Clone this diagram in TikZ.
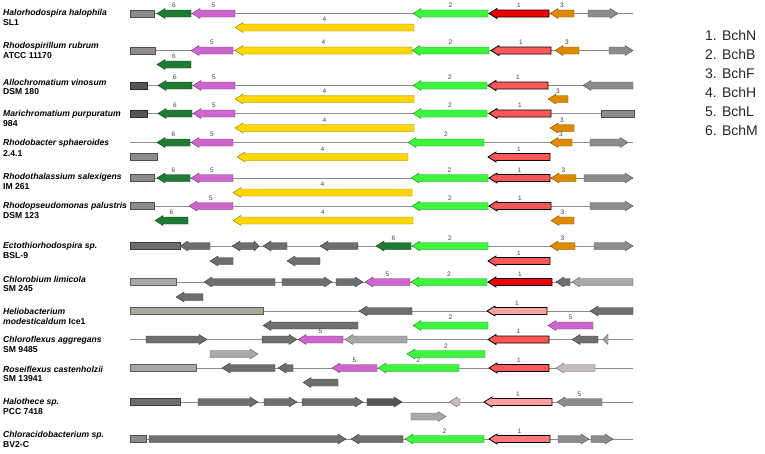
\documentclass[tikz,border=0pt]{standalone}
\usepackage{fontspec}
\setmainfont{Liberation Sans}
\definecolor{bchM}{HTML}{1F7A34}
\definecolor{bchL}{HTML}{CC66CC}
\definecolor{bchH}{HTML}{FFD700}
\definecolor{bchB}{HTML}{3CF53C}
\definecolor{bchF}{HTML}{DE8A00}
\definecolor{bchNa}{HTML}{EE0000}
\definecolor{bchNb}{HTML}{FF5858}
\definecolor{bchNc}{HTML}{FFA0A0}
\definecolor{greyA}{HTML}{8C8C8C}
\definecolor{greyB}{HTML}{6E6E6E}
\definecolor{greyC}{HTML}{A8A8A8}
\definecolor{greyD}{HTML}{555555}
\definecolor{greyE}{HTML}{A9A59F}
\definecolor{greyF}{HTML}{C6BABE}
\tikzset{
  backbone/.style={draw=greyA, line width=0.6pt},
  gfill/.style={fill=#1, draw=#1!55!black, line width=0.4pt},
  rfill/.style={fill=#1, draw=black, line width=0.8pt},
  numlab/.style={font=\fontsize{6.5}{6.5}\selectfont, text=black!75, inner sep=0pt},
  species/.style={anchor=west, inner sep=0pt, font=\fontsize{8.6}{10}\selectfont\bfseries\itshape},
  strain/.style={anchor=west, inner sep=0pt, font=\fontsize{8.6}{10}\selectfont\bfseries},
  legend/.style={anchor=west, inner sep=0pt, text=black!85, font=\fontsize{14}{16}\selectfont}
}
% gene pointing left: name, tip, end, y, style, number
\newcommand{\genel}[6]{%
  \pgfmathsetmacro{\headlen}{min(8,#3-#2)}
  \draw[#5] (#2,#4) -- ++(\headlen,-5) -- ++(0,1.5) -- (#3,#4-3.5) -- (#3,#4+3.5) -- (#2+\headlen,#4+3.5) -- ++(0,1.5) -- cycle;
  \node[numlab] (#1) at ({(#2+#3)/2},#4-8) {#6};}
% gene pointing right: name, start, tip, y, style, number
\newcommand{\gener}[6]{%
  \pgfmathsetmacro{\headlen}{min(8,#3-#2)}
  \draw[#5] (#3,#4) -- ++(-\headlen,-5) -- ++(0,1.5) -- (#2,#4-3.5) -- (#2,#4+3.5) -- (#3-\headlen,#4+3.5) -- ++(0,1.5) -- cycle;
  \node[numlab] (#1) at ({(#2+#3)/2},#4-8) {#6};}
% gene fragment without direction: x1, x2, y, style
\newcommand{\genebox}[4]{%
  \draw[#4] (#1,#3-3.5) rectangle (#2,#3+3.5);}
\begin{document}
\begin{tikzpicture}[x=1pt, y=-1pt]
    \useasboundingbox (0,0) rectangle (765,453);
    % row 1
    \node[species] (sp1) at (3,13) {Halorhodospira halophila};
    \node[strain] (st1) at (3,23) {SL1};
    \draw[backbone] (130,13.5) -- (633,13.5);
    \genebox{130}{154}{13.5}{gfill=greyA}
    \genel{r1a}{157}{191}{13.5}{gfill=bchM}{6}
    \genel{r1b}{192}{235}{13.5}{gfill=bchL}{5}
    \genel{r1c}{413}{488}{13.5}{gfill=bchB}{2}
    \genel{r1d}{489}{549}{13.5}{rfill=bchNa}{1}
    \genel{r1e}{550}{574}{13.5}{gfill=bchF}{3}
    \gener{r1f}{588}{618}{13.5}{gfill=greyA}{}
    \genel{r1g}{235}{414}{27.5}{gfill=bchH}{4}
    % row 2
    \node[species] (sp2) at (3,46) {Rhodospirillum rubrum};
    \node[strain] (st2) at (3,56) {ATCC 11170};
    \draw[backbone] (130,50.5) -- (633,50.5);
    \genebox{130}{155}{50.5}{gfill=greyA}
    \genel{r2a}{191}{233}{50.5}{gfill=bchL}{5}
    \genel{r2b}{235}{412}{50.5}{gfill=bchH}{4}
    \genel{r2c}{412}{489}{50.5}{gfill=bchB}{2}
    \genel{r2d}{491}{551}{50.5}{rfill=bchNb}{1}
    \genel{r2e}{555}{579}{50.5}{gfill=bchF}{3}
    \gener{r2f}{609}{633}{50.5}{gfill=greyA}{}
    \genel{r2g}{157}{191}{64.5}{gfill=bchM}{6}
    % row 3
    \node[species] (sp3) at (3,82) {Allochromatium vinosum};
    \node[strain] (st3) at (3,92) {DSM 180};
    \draw[backbone] (130,85.5) -- (633,85.5);
    \genebox{130}{147}{85.5}{gfill=greyD}
    \genel{r3a}{158}{192}{85.5}{gfill=bchM}{6}
    \genel{r3b}{193}{235}{85.5}{gfill=bchL}{5}
    \genel{r3c}{413}{487}{85.5}{gfill=bchB}{2}
    \genel{r3d}{488}{548}{85.5}{rfill=bchNb}{1}
    \genel{r3e}{583}{633}{85.5}{gfill=greyA}{}
    \genel{r3f}{235}{414}{99}{gfill=bchH}{4}
    \genel{r3g}{548}{568}{99}{gfill=bchF}{3}
    % row 4
    \node[species] (sp4) at (3,114) {Marichromatium purpuratum};
    \node[strain] (st4) at (3,124) {984};
    \draw[backbone] (130,113.5) -- (633,113.5);
    \genebox{130}{147}{113.5}{gfill=greyD}
    \genel{r4a}{158}{192}{113.5}{gfill=bchM}{6}
    \genel{r4b}{193}{235}{113.5}{gfill=bchL}{5}
    \genel{r4c}{413}{487}{113.5}{gfill=bchB}{2}
    \genel{r4d}{489}{551}{113.5}{rfill=bchNb}{1}
    \genebox{601}{634}{113.5}{gfill=greyA}
    \genel{r4e}{235}{414}{128}{gfill=bchH}{4}
    \genel{r4f}{550}{574}{128}{gfill=bchF}{3}
    % row 5
    \node[species] (sp5) at (3,143) {Rhodobacter sphaeroides};
    \node[strain] (st5) at (3,153) {2.4.1};
    \draw[backbone] (130,142.5) -- (633,142.5);
    \genel{r5a}{157}{190}{142.5}{gfill=bchM}{6}
    \genel{r5b}{191}{233}{142.5}{gfill=bchL}{5}
    \genel{r5c}{408}{484}{142.5}{gfill=bchB}{2}
    \genel{r5d}{550}{572}{142.5}{gfill=bchF}{3}
    \gener{r5e}{590}{628}{142.5}{gfill=greyA}{}
    \genebox{130}{157}{157}{gfill=greyA}
    \genel{r5f}{237}{408}{157}{gfill=bchH}{4}
    \genel{r5g}{488}{550}{157}{rfill=bchNb}{1}
    % row 6
    \node[species] (sp6) at (3,177) {Rhodothalassium salexigens};
    \node[strain] (st6) at (3,187) {IM 261};
    \draw[backbone] (130,178) -- (633,178);
    \genebox{130}{154}{178}{gfill=greyA}
    \genel{r6a}{157}{190}{178}{gfill=bchM}{6}
    \genel{r6b}{191}{233}{178}{gfill=bchL}{5}
    \genel{r6c}{411}{488}{178}{gfill=bchB}{2}
    \genel{r6d}{489}{550}{178}{rfill=bchNb}{1}
    \genel{r6e}{551}{576}{178}{gfill=bchF}{3}
    \gener{r6f}{584}{633}{178}{gfill=greyA}{}
    \genel{r6g}{233}{412}{192.5}{gfill=bchH}{4}
    % row 7
    \node[species] (sp7) at (3,206) {Rhodopseudomonas palustris};
    \node[strain] (st7) at (3,216) {DSM 123};
    \draw[backbone] (130,206) -- (633,206);
    \genebox{130}{154}{206}{gfill=greyA}
    \genel{r7a}{189}{233}{206}{gfill=bchL}{5}
    \genel{r7b}{412}{488}{206}{gfill=bchB}{2}
    \genel{r7c}{489}{551}{206}{rfill=bchNb}{1}
    \gener{r7d}{590}{633}{206}{gfill=greyA}{}
    \genel{r7e}{155}{188}{220.5}{gfill=bchM}{6}
    \genel{r7f}{233}{413}{220.5}{gfill=bchH}{4}
    \genel{r7g}{551}{574}{220.5}{gfill=bchF}{3}
    % row 8
    \node[species] (sp8) at (3,246) {Ectothiorhodospira sp.};
    \node[strain] (st8) at (3,256) {BSL-9};
    \draw[backbone] (130,246) -- (633,246);
    \genebox{130}{180}{246}{gfill=greyB}
    \genel{r8a}{180}{210}{246}{gfill=greyB}{}
    \genel{r8b}{232}{254}{246}{gfill=greyB}{}
    \gener{r8c}{254}{259}{246}{gfill=greyB}{}
    \genel{r8d}{263}{287}{246}{gfill=greyB}{}
    \genel{r8e}{320}{358}{246}{gfill=greyB}{}
    \genel{r8f}{376}{411}{246}{gfill=bchM}{6}
    \genel{r8g}{412}{488}{246}{gfill=bchB}{2}
    \genel{r8h}{550}{575}{246}{gfill=bchF}{3}
    \gener{r8i}{594}{633}{246}{gfill=greyA}{}
    \genel{r8j}{210}{233}{261}{gfill=greyB}{}
    \genel{r8k}{287}{320}{261}{gfill=greyB}{}
    \genel{r8l}{488}{550}{261}{rfill=bchNb}{1}
    % row 9
    \node[species] (sp9) at (3,279) {Chlorobium limicola};
    \node[strain] (st9) at (3,289) {SM 245};
    \draw[backbone] (130,282) -- (633,282);
    \genebox{130}{176}{282}{gfill=greyC}
    \genel{r9a}{204}{275}{282}{gfill=greyB}{}
    \gener{r9b}{282}{332}{282}{gfill=greyB}{}
    \gener{r9c}{336}{363}{282}{gfill=greyB}{}
    \genel{r9d}{365}{410}{282}{gfill=bchL}{5}
    \genel{r9e}{411}{487}{282}{gfill=bchB}{2}
    \genel{r9f}{488}{552}{282}{rfill=bchNa}{1}
    \genel{r9g}{556}{570}{282}{gfill=greyB}{}
    \genel{r9h}{572}{633}{282}{gfill=greyC}{}
    \genel{r9i}{176}{203}{297}{gfill=greyB}{}
    % row 10
    \node[species] (sp10) at (3,311) {Heliobacterium};
    \node[strain] (st10) at (3,321) {\textit{modesticaldum} Ice1};
    \draw[backbone] (130,311) -- (633,311);
    \genebox{130}{263}{311}{gfill=greyE}
    \genel{r10a}{359}{412}{311}{gfill=greyB}{}
    \genel{r10b}{487}{547}{311}{rfill=bchNc}{1}
    \genel{r10c}{590}{633}{311}{gfill=greyB}{}
    \genel{r10d}{263}{358}{325.5}{gfill=greyB}{}
    \genel{r10e}{413}{488}{325.5}{gfill=bchB}{2}
    \genel{r10f}{548}{593}{325.5}{gfill=bchL}{5}
    % row 11
    \node[species] (sp11) at (3,340) {Chloroflexus aggregans};
    \node[strain] (st11) at (3,350) {SM 9485};
    \draw[backbone] (130,339.5) -- (633,339.5);
    \gener{r11a}{146}{207}{339.5}{gfill=greyB}{}
    \gener{r11b}{262}{297}{339.5}{gfill=greyB}{}
    \genel{r11c}{298}{343}{339.5}{gfill=bchL}{5}
    \genel{r11d}{345}{407}{339.5}{gfill=greyC}{}
    \genel{r11e}{488}{549}{339.5}{rfill=bchNb}{1}
    \genel{r11f}{572}{598}{339.5}{gfill=greyB}{}
    \genel{r11g}{603}{608}{339.5}{gfill=greyC}{}
    \gener{r11h}{210}{258}{354}{gfill=greyC}{}
    \genel{r11i}{407}{485}{354}{gfill=bchB}{2}
    % row 12
    \node[species] (sp12) at (3,369) {Roseiflexus castenholzii};
    \node[strain] (st12) at (3,379) {SM 13941};
    \draw[backbone] (130,368) -- (633,368);
    \genebox{130}{196}{368}{gfill=greyC}
    \genel{r12a}{222}{275}{368}{gfill=greyB}{}
    \genel{r12b}{278}{293}{368}{gfill=greyB}{}
    \genel{r12c}{332}{377}{368}{gfill=bchL}{5}
    \genel{r12d}{378}{459}{368}{gfill=bchB}{2}
    \genel{r12e}{489}{549}{368}{rfill=bchNb}{1}
    \genel{r12f}{556}{595}{368}{gfill=greyF}{}
    \genel{r12g}{303}{338}{382.5}{gfill=greyB}{}
    % row 13
    \node[species] (sp13) at (3,402) {Halothece sp.};
    \node[strain] (st13) at (3,412) {PCC 7418};
    \draw[backbone] (130,402) -- (633,402);
    \genebox{130}{180}{402}{gfill=greyB}
    \gener{r13a}{198}{258}{402}{gfill=greyB}{}
    \gener{r13b}{264}{297}{402}{gfill=greyB}{}
    \gener{r13c}{302}{363}{402}{gfill=greyB}{}
    \gener{r13d}{367}{402}{402}{gfill=greyD}{}
    \genel{r13e}{449}{460}{402}{gfill=greyF}{}
    \genel{r13f}{484}{552}{402}{rfill=bchNc}{1}
    \genel{r13g}{557}{602}{402}{gfill=greyA}{5}
    \gener{r13h}{411}{446}{416.5}{gfill=greyC}{}
    % row 14
    \node[species] (sp14) at (3,435) {Chloracidobacterium sp.};
    \node[strain] (st14) at (3,445) {BV2-C};
    \draw[backbone] (130,439) -- (633,439);
    \genebox{130}{146}{439}{gfill=greyA}
    \gener{r14a}{149}{346}{439}{gfill=greyB}{}
    \genel{r14b}{351}{403}{439}{gfill=greyB}{}
    \genel{r14c}{405}{484}{439}{gfill=bchB}{2}
    \genel{r14d}{489}{550}{439}{rfill=bchNb!80!white}{1}
    \gener{r14e}{558}{589}{439}{gfill=greyA}{}
    \gener{r14f}{591}{613}{439}{gfill=greyA}{}
    % key
    \node[legend] (key1) at (705,35) {1. BchN};
    \node[legend] (key2) at (705,54) {2. BchB};
    \node[legend] (key3) at (705,73) {3. BchF};
    \node[legend] (key4) at (705,92) {4. BchH};
    \node[legend] (key5) at (705,111) {5. BchL};
    \node[legend] (key6) at (705,130) {6. BchM};
\end{tikzpicture}
\end{document}
